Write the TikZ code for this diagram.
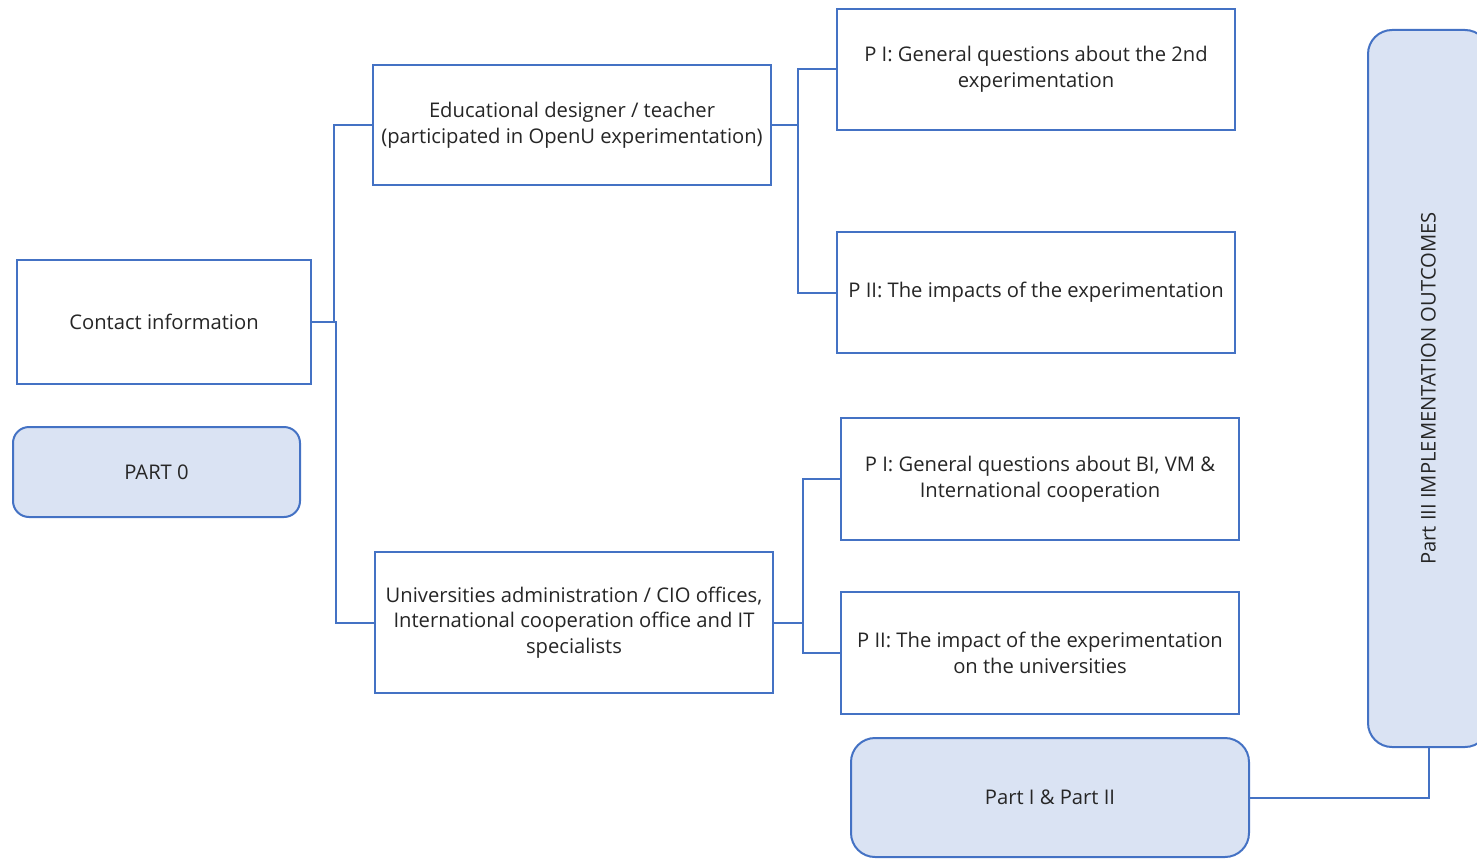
\documentclass[tikz,border=0pt]{standalone}
\usepackage{fontspec}
\setmainfont{Open Sans}
\definecolor{boxline}{HTML}{4472C4}
\definecolor{boxfill}{HTML}{DAE3F3}
\definecolor{ink}{HTML}{262626}
\begin{document}
\begin{tikzpicture}[x=1pt,y=-1pt,
  every node/.style={font=\fontsize{20.2}{25.7}\selectfont, text=ink, align=center, inner sep=0pt},
  plainbox/.style={draw=boxline, line width=2pt, fill=white, minimum width=#1, rectangle},
  roundbox/.style={draw=boxline, line width=2pt, fill=boxfill, rounded corners=16pt, rectangle},
  link/.style={draw=boxline, line width=2pt}]
\useasboundingbox (0,0) rectangle (1477,859);

% left column
\node[plainbox=294pt, minimum height=124pt] (contact) at (164,322) {Contact information};
\node[roundbox, minimum width=287pt, minimum height=90pt] (part0) at (156.5,472) {PART 0};

% respondent groups
\node[plainbox=398pt, minimum height=120pt] (edu) at (572,125)
  {Educational designer / teacher\\(participated in OpenU experimentation)};
\node[plainbox=398pt, minimum height=141pt] (univ) at (574,622.5)
  {Universities administration / CIO offices,\\International cooperation office and IT\\specialists};

% question parts
\node[plainbox=398pt, minimum height=121pt] (p1a) at (1036,69.5)
  {P I: General questions about the 2nd\\experimentation};
\node[plainbox=398pt, minimum height=121pt] (p2a) at (1036,292.5)
  {P II: The impacts of the experimentation};
\node[plainbox=398pt, minimum height=122pt] (p1b) at (1040,479)
  {P I: General questions about BI, VM \&\\International cooperation};
\node[plainbox=398pt, minimum height=122pt] (p2b) at (1040,653)
  {P II: The impact of the experimentation\\on the universities};

% part labels
\node[roundbox, rounded corners=24pt, minimum width=398pt, minimum height=119pt] (parts12) at (1050,797.5) {Part I \& Part II};
\node[roundbox, rounded corners=24pt, minimum width=121pt, minimum height=717pt] (part3) at (1428.5,388.5) {};
\node[rotate=90] (part3txt) at (part3.center) {Part III IMPLEMENTATION OUTCOMES};

% connectors
\draw[link] (contact.east) -- ++(22,0) |- (edu.west);
\draw[link] (contact.east) -- ++(24,0) |- (univ.west);
\draw[link] (edu.east) -- ++(26,0) |- (p1a.west);
\draw[link] (edu.east) -- ++(26,0) |- (p2a.west);
\draw[link] (univ.east) -- ++(29,0) |- (p1b.west);
\draw[link] (univ.east) -- ++(29,0) |- (p2b.west);
\draw[link] (part3.south) |- (parts12.east);
\end{tikzpicture}
\end{document}
